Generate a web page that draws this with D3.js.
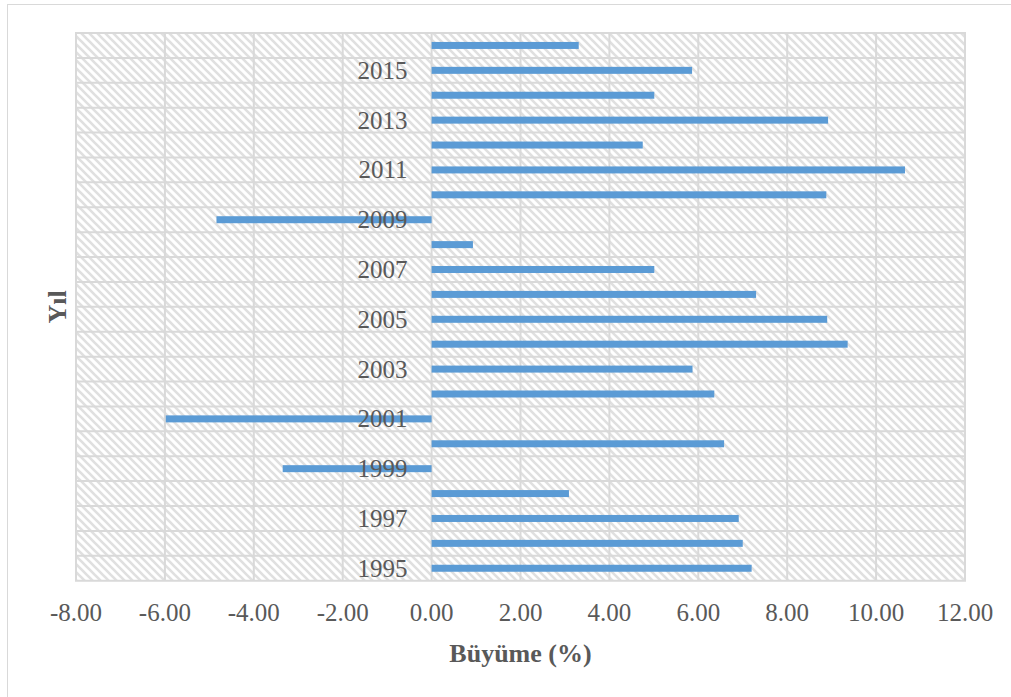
<!DOCTYPE html>
<html>
<head>
<meta charset="utf-8">
<script src="https://cdn.jsdelivr.net/npm/d3@7"></script>
<style>
  html, body { margin: 0; padding: 0; background: #fff; }
  svg { display: block; }
</style>
</head>
<body>
<svg id="chart" width="1011" height="697"></svg>
<script>
const years = [1995, 1996, 1997, 1998, 1999, 2000, 2001, 2002, 2003, 2004, 2005,
               2006, 2007, 2008, 2009, 2010, 2011, 2012, 2013, 2014, 2015, 2016];
const growth = [7.20, 7.00, 6.91, 3.09, -3.35, 6.58, -5.98, 6.36, 5.87, 9.36, 8.90,
                7.30, 5.01, 0.93, -4.84, 8.88, 10.65, 4.75, 8.92, 5.01, 5.86, 3.31];
const labeledYears = [1995, 1997, 1999, 2001, 2003, 2005, 2007, 2009, 2011, 2013, 2015];
const xTicks = [-8, -6, -4, -2, 0, 2, 4, 6, 8, 10, 12];
const xTitle = "Büyüme (%)";
const yTitle = "Yıl";

const svg = d3.select("#chart");
const W = 1011, H = 697;
const plot = { left: 76, top: 33, right: 965, bottom: 580.7 };
const textColor = "#595959";
const gridColor = "#d9d9d9";
const barColor = "#5b9bd5";
const font = "'Liberation Serif', 'Times New Roman', serif";

// outer chart border
svg.append("rect")
  .attr("x", 7.5).attr("y", 4.5)
  .attr("width", W + 20).attr("height", H + 20)
  .attr("fill", "#fff").attr("stroke", gridColor).attr("stroke-width", 1);

const defs = svg.append("defs");
const pat = defs.append("pattern")
  .attr("id", "hatch")
  .attr("patternUnits", "userSpaceOnUse")
  .attr("width", 8).attr("height", 8);
pat.append("rect").attr("width", 8).attr("height", 8).attr("fill", "#fff");
pat.append("path")
  .attr("d", "M-2,-2 L10,10 M-2,6 L2,10 M6,-2 L10,2")
  .attr("stroke", "#e0e0e0").attr("stroke-width", 2.6);

const x = d3.scaleLinear().domain([-8, 12]).range([plot.left, plot.right]);
const y = d3.scaleBand().domain(years.slice().reverse()).range([plot.top, plot.bottom]).padding(0);

// hatched plot background
svg.append("rect")
  .attr("x", plot.left).attr("y", plot.top)
  .attr("width", plot.right - plot.left).attr("height", plot.bottom - plot.top)
  .attr("fill", "url(#hatch)");

// grid
const grid = svg.append("g").attr("stroke", gridColor).attr("stroke-width", 2);
grid.selectAll("line.v").data(xTicks).join("line").attr("class", "v")
  .attr("x1", d => x(d)).attr("x2", d => x(d))
  .attr("y1", plot.top).attr("y2", plot.bottom);
const bounds = years.map(yr => y(yr)).concat([plot.bottom]);
grid.selectAll("line.h").data(bounds).join("line").attr("class", "h")
  .attr("x1", plot.left - 1).attr("x2", plot.right + 1)
  .attr("y1", d => d).attr("y2", d => d);

// bars
const barH = 7;
svg.append("g").selectAll("rect").data(years).join("rect")
  .attr("x", (d, i) => Math.min(x(0), x(growth[i])))
  .attr("width", (d, i) => Math.abs(x(growth[i]) - x(0)))
  .attr("y", d => y(d) + y.bandwidth() / 2 - barH / 2)
  .attr("height", barH)
  .attr("fill", barColor);

// y-axis labels (at zero crossing)
svg.append("g").selectAll("text").data(labeledYears).join("text")
  .attr("x", x(0) - 24)
  .attr("y", d => y(d) + y.bandwidth() / 2 + 8.5)
  .attr("text-anchor", "end")
  .attr("font-family", font).attr("font-size", 25)
  .attr("fill", textColor)
  .text(d => d);

// x-axis tick labels
const loc = d3.formatLocale({ decimal: ".", thousands: ",", grouping: [3], currency: ["", ""], minus: "-" });
const fmt = loc.format(".2f");
svg.append("g").selectAll("text").data(xTicks).join("text")
  .attr("x", d => x(d)).attr("y", 621)
  .attr("text-anchor", "middle")
  .attr("font-family", font).attr("font-size", 25)
  .attr("fill", textColor)
  .text(d => fmt(d));

// axis titles
svg.append("text")
  .attr("x", (plot.left + plot.right) / 2).attr("y", 662)
  .attr("text-anchor", "middle")
  .attr("font-family", font).attr("font-size", 26).attr("font-weight", "bold")
  .attr("fill", textColor)
  .text(xTitle);

svg.append("text")
  .attr("transform", `translate(66,${(plot.top + plot.bottom) / 2}) rotate(-90)`)
  .attr("text-anchor", "middle")
  .attr("font-family", font).attr("font-size", 26).attr("font-weight", "bold")
  .attr("fill", textColor)
  .text(yTitle);
</script>
</body>
</html>
